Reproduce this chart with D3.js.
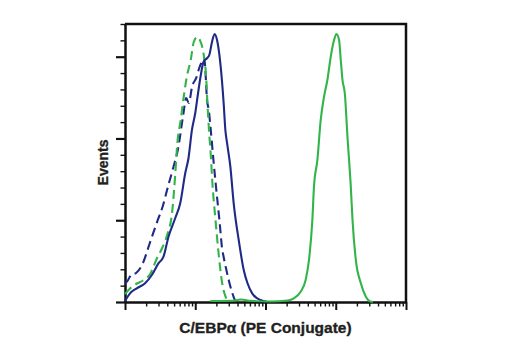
<!DOCTYPE html>
<html>
<head>
<meta charset="utf-8">
<script src="https://cdn.jsdelivr.net/npm/d3@7"></script>
<style>
  body { margin: 0; background: #fff; }
  text { font-family: "Liberation Sans", Arial, sans-serif; font-weight: bold; fill: #231f20; stroke: #231f20; stroke-width: 0.35px; }
</style>
</head>
<body>
<div id="chart"></div>
<script>
// fluorescence intensity (PE) and event counts
const blueStainX = [10, 11.8, 14.7, 19.3, 24.1, 29.9, 35.3, 41.6, 51.8, 61.1, 72, 80.2, 89.7, 100, 107.9, 117.9, 131.4, 146.9, 158.5, 173.2, 188.8, 204.2, 227.6, 253.6, 268.3, 283.6, 316, 352.5, 415.6, 490, 553, 646, 848, 1057];
const blueStainY = [1.2, 10.6, 16.8, 22.9, 33, 47.3, 55.4, 79.9, 102.4, 120.7, 157.4, 176.1, 210.4, 231.2, 251.1, 273.6, 293.9, 298.1, 302.1, 318, 327.8, 320.4, 292, 243.4, 210.4, 194.5, 165.5, 120.7, 75.8, 39.1, 23.2, 10.6, 2.4, 0.4];

const blueIsoX = [10, 10.7, 12.2, 14.4, 17.5, 22.8, 28.6, 34.9, 41.1, 48.5, 57.2, 67.4, 74.4, 80.8, 90.6, 103.3, 114, 121.8, 134.5, 141.3, 146.9, 155.9, 163.8, 182.5, 204.2, 222.2, 240.6, 253.6, 277.4, 299.3, 326.6, 352.5, 372.8];
const blueIsoY = [23.2, 25.1, 33, 35.5, 45.3, 73.4, 97.8, 118.6, 141.9, 163.9, 188.4, 228.7, 249.5, 243.4, 264.2, 274, 286.2, 292.3, 298.4, 274, 247.1, 234.8, 216.5, 171.3, 128.4, 97.8, 66, 55, 39.1, 26.9, 14.7, 6.1, 1.2];

const greenIsoX = [10, 11.8, 14.8, 18.1, 22.8, 28.6, 33.8, 39.8, 46.9, 51.8, 55.3, 62.1, 68.5, 75.7, 86.2, 95.2, 106.8, 117.9, 125.9, 132.2, 142.6, 149.3, 157.5, 166.4, 175, 193.1, 215.4, 240.6, 268.3, 296];
const greenIsoY = [9.8, 16.5, 22.6, 26.3, 34.2, 53.8, 66, 81.9, 110.1, 155.3, 192, 222.6, 250.7, 275.2, 296, 318, 324.1, 319.2, 311.9, 302.1, 276.4, 242.2, 207.9, 179.8, 146.8, 102.7, 58.7, 23.9, 7.3, 1.2];

const greenStainX = [163.8, 316, 450, 610.5, 1178, 2061, 2537, 3162, 3728, 4161, 4645, 4898, 5479, 6105, 6813, 7600, 8483, 9464, 10234, 11150, 11788, 12470, 13459, 14680, 16379, 17326, 19307, 22758, 26827, 30905, 33784];
const greenStainY = [1.2, 1.5, 3, 1.5, 0.6, 1.8, 4.5, 12.6, 26.9, 51.4, 100.3, 141, 173.7, 222.6, 251.1, 271.5, 300, 320.4, 327.8, 320.4, 296, 271.5, 255.3, 202.2, 141, 100.3, 51.4, 22.9, 6.5, 0.6, 0];

const xMajor = [10, 100, 1000, 10000, 100000];
const yMajor = [0, 100, 200, 300];

const series = [
  { name: "blue isotype", xs: blueIsoX, ys: blueIsoY, color: "#1e2a86", dash: "9,5" },
  { name: "green isotype", xs: greenIsoX, ys: greenIsoY, color: "#33b44a", dash: "9,5" },
  { name: "blue stained", xs: blueStainX, ys: blueStainY, color: "#1e2a86", dash: null },
  { name: "green stained", xs: greenStainX, ys: greenStainY, color: "#33b44a", dash: null },
];

const width = 520;
const height = 350;
const margin = { top: 24, right: 114, bottom: 48, left: 125 };

const x = d3
  .scaleLog()
  .domain([10, 100000])
  .range([margin.left, width - margin.right]);

const y = d3
  .scaleLinear()
  .domain([0, 340])
  .range([height - margin.bottom, margin.top]);

const svg = d3
  .select("#chart")
  .append("svg")
  .attr("width", width)
  .attr("height", height);

// minor + major ticks, no labels
const xMinor = x.ticks().filter((v) => !xMajor.includes(v));
const yMinor = d3.range(0, 341, 20).filter((v) => !yMajor.includes(v));

function axisStyle(g, w) {
  g.selectAll("text").remove();
  g.selectAll("line").attr("stroke", "#111").attr("stroke-width", w);
  g.select(".domain").attr("stroke", "#111").attr("stroke-width", 2);
}

svg.append("g")
  .attr("transform", `translate(0,${y(0)})`)
  .call(d3.axisBottom(x).tickValues(xMinor).tickSize(4.5).tickSizeOuter(0))
  .call(axisStyle, 1.4);

svg.append("g")
  .attr("transform", `translate(0,${y(0)})`)
  .call(d3.axisBottom(x).tickValues(xMajor).tickSize(8).tickSizeOuter(0))
  .call(axisStyle, 2);

svg.append("g")
  .attr("transform", `translate(${x(10)},0)`)
  .call(d3.axisLeft(y).tickValues(yMinor).tickSize(4.5).tickSizeOuter(0))
  .call(axisStyle, 1.4);

svg.append("g")
  .attr("transform", `translate(${x(10)},0)`)
  .call(d3.axisLeft(y).tickValues(yMajor).tickSize(9).tickSizeOuter(0))
  .call(axisStyle, 2.2);

// top and right frame
svg.append("path")
  .attr("d", `M${x(10)},${y(340)}H${x(100000)}V${y(0)}`)
  .attr("fill", "none")
  .attr("stroke", "#111")
  .attr("stroke-width", 2.5);

const line = d3
  .line()
  .curve(d3.curveMonotoneX)
  .x((d) => x(d[0]))
  .y((d) => y(d[1]));

svg.append("g")
  .selectAll("path")
  .data(series)
  .join("path")
  .attr("d", (s) => line(d3.zip(s.xs, s.ys)))
  .attr("fill", "none")
  .attr("stroke", (s) => s.color)
  .attr("stroke-width", 2.1)
  .attr("stroke-dasharray", (s) => s.dash);

svg.append("text")
  .attr("x", (x(10) + x(100000)) / 2)
  .attr("y", 332.5)
  .attr("text-anchor", "middle")
  .style("font-size", "15.5px")
  .text("C/EBPα (PE Conjugate)");

svg.append("text")
  .attr("transform", "translate(108,162.5) rotate(-90)")
  .attr("text-anchor", "middle")
  .style("font-size", "14px")
  .text("Events");
</script>
</body>
</html>
